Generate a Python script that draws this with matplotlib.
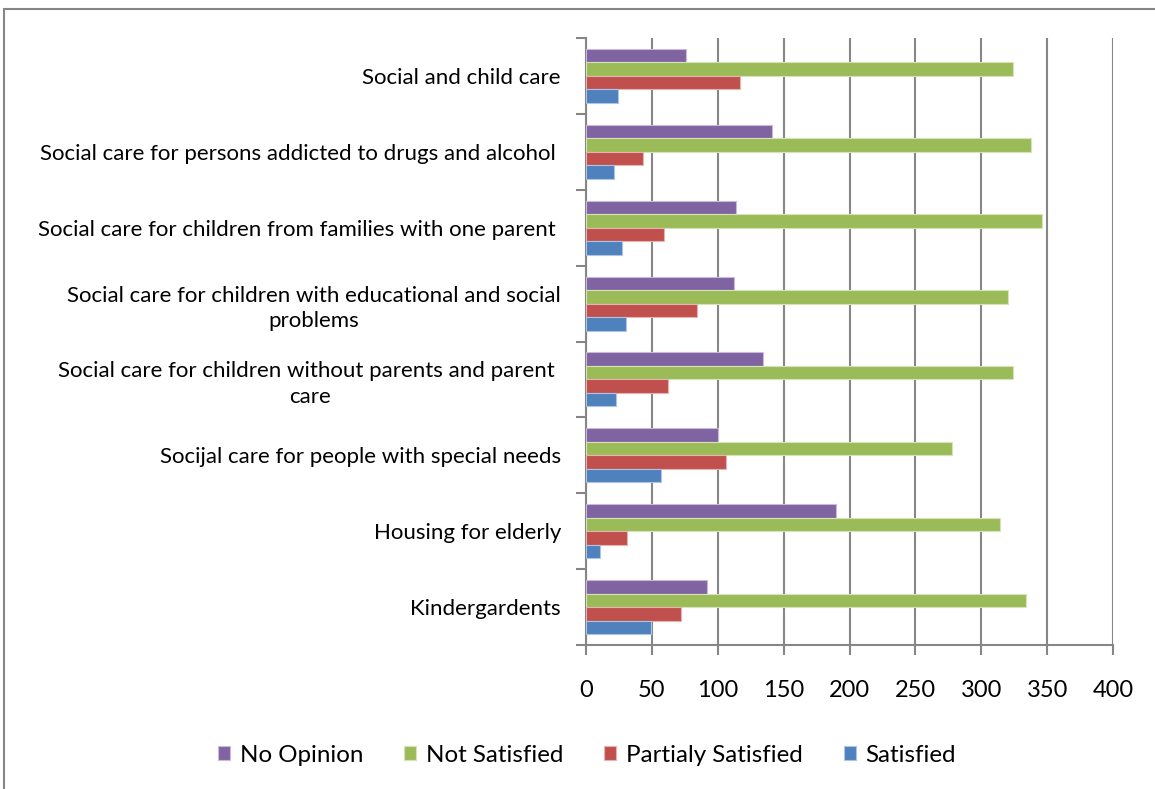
import matplotlib.pyplot as plt
from matplotlib.patches import Rectangle
import numpy as np

plt.rcParams["font.family"] = ["Lato", "DejaVu Sans"]

# categories, bottom to top as drawn
categories = [
    "Kindergardents",
    "Housing for elderly",
    "Socijal care for people with special needs",
    "Social care for children without parents and parent \ncare",
    "Social care for children with educational and social\nproblems",
    "Social care for children from families with one parent ",
    "Social care for persons addicted to drugs and alcohol ",
    "Social and child care",
]

no_opinion = [92, 190, 100, 134, 112, 114, 141, 76]
not_satisfied = [334, 314, 278, 324, 320, 346, 338, 324]
partialy_satisfied = [72, 31, 106, 62, 84, 59, 43, 117]
satisfied = [49, 11, 57, 23, 30, 27, 21, 24]

series = [
    ("No Opinion", no_opinion, "#8064A2", "#C9BADB"),
    ("Not Satisfied", not_satisfied, "#9BBB59", "#D4E4B6"),
    ("Partialy Satisfied", partialy_satisfied, "#C0504D", "#E6B3B1"),
    ("Satisfied", satisfied, "#4F81BD", "#ADC5E3"),
]

fig = plt.figure(figsize=(11.55, 7.89), dpi=100)
ax = fig.add_axes([586 / 1155, 1 - 645 / 789, 527 / 1155, 607 / 789])

# outer chart-area border
fig.patches.append(Rectangle((4 / 1155, -0.1), 1.2, 1 - 9 / 789 + 0.1,
                             transform=fig.transFigure, fill=False,
                             edgecolor="#868686", linewidth=1.5))

y = np.arange(len(categories))
h = 0.178
offsets = [1.5 * h, 0.5 * h, -0.5 * h, -1.5 * h]
for (name, vals, color, edge), off in zip(series, offsets):
    ax.barh(y + off, vals, height=h, color=color, edgecolor=edge,
            linewidth=0.8, label=name, zorder=3)

ax.set_xlim(0, 400)
ax.set_ylim(-0.5, len(categories) - 0.5)
ax.set_xticks(np.arange(0, 401, 50))
ax.tick_params(axis="x", labelsize=17, length=7, width=1.5, color="#868686",
               pad=18)
ax.grid(axis="x", color="#868686", linewidth=1.5, zorder=0)

ax.set_yticks(y)
ax.set_yticklabels(categories, fontsize=16, ha="right", multialignment="center",
                   linespacing=1.35)
ax.set_yticks(np.arange(-0.5, len(categories), 1), minor=True)
ax.tick_params(axis="y", which="major", length=0, pad=18)
ax.tick_params(axis="y", which="minor", length=7, width=1.5, color="#868686")

for s in ["top", "right"]:
    ax.spines[s].set_visible(False)
for s in ["left", "bottom"]:
    ax.spines[s].set_color("#868686")
    ax.spines[s].set_linewidth(1.5)

fig.legend(loc="center", bbox_to_anchor=(587 / 1155, 1 - 755 / 789), ncol=4,
           frameon=False, fontsize=17.4, handlelength=0.5, handleheight=0.5,
           columnspacing=1.7, handletextpad=0.4)

plt.savefig("out.png", dpi=100)
